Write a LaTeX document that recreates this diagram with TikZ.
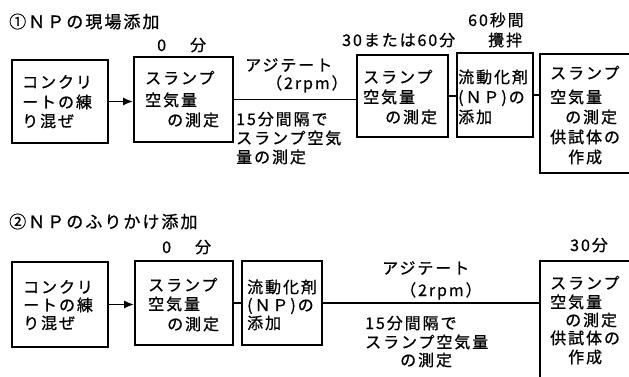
\documentclass[tikz,border=0pt]{standalone}
\usepackage{fontspec}
\newfontfamily\cjk[LetterSpace=12,FakeBold=0.8]{Noto Sans CJK JP}
\usetikzlibrary{arrows.meta}
\newcommand\tline[4]{\node[txt] (#1) at (#2,#3) {#4};}
\begin{document}
\begin{tikzpicture}[x=1pt,y=-1pt,
 box/.style={draw, line width=1.7pt, inner sep=0pt},
 txt/.style={anchor=west, inner sep=0pt, text height=14pt, text depth=2pt, font=\cjk\fontsize{16}{20}\selectfont},
 ttl/.style={txt, font=\cjk\fontsize{17}{20}\selectfont},
 conn/.style={line width=1.7pt},
 arr/.style={conn, -{Latex[length=10pt,width=8pt]}}]
\clip (0,0) rectangle (629,377);
\fill[white] (0,0) rectangle (629,377);

% ---------- row 1 ----------
\node[ttl] (t1) at (9,22) {①ＮＰの現場添加};
\node[box, minimum width=96pt, minimum height=83pt] (r1b1) at (60,101.5) {};
\node[box, minimum width=99pt, minimum height=85pt] (r1b2) at (183.5,99.5) {};
\node[box, minimum width=91pt, minimum height=82pt] (r1b3) at (402.5,96) {};
\node[box, minimum width=76pt, minimum height=84pt] (r1b4) at (495,95) {};
\node[box, minimum width=110pt, minimum height=119pt] (r1b5) at (595,113.5) {};

\draw[arr] (r1b1.east) -- (r1b1.east -| r1b2.west);
\draw[conn] (r1b2.east) -- (r1b2.east -| r1b3.west);
\draw[conn] (r1b3.east) -- (r1b3.east -| r1b4.west);
\draw[conn] (r1b4.east) -- (r1b4.east -| r1b5.west);

\tline{a1}{22}{82}{コンクリ}
\tline{a2}{22}{102}{ートの練}
\tline{a3}{22}{121}{り混ぜ}

\tline{b0}{157}{45}{0\hspace{24pt}分}
\tline{b1}{145}{78}{スランプ}
\tline{b2}{145}{100}{空気量}
\tline{b3}{167}{120}{の測定}

\tline{c1}{245}{65}{アジテート}
\tline{c2}{266}{83}{（2rpm）}
\tline{c3}{236}{119}{15分間隔で}
\tline{c4}{236}{138}{スランプ空気}
\tline{c5}{236}{157}{量の測定}

\tline{d0}{342}{40}{30または60分}
\tline{d1}{363}{77}{スランプ}
\tline{d2}{363}{97}{空気量}
\tline{d3}{385}{117}{の測定}

\tline{e0}{468}{20}{60秒間}
\tline{e00}{488}{40}{攪拌}
\tline{e1}{458}{77}{流動化剤}
\tline{e2}{458}{97}{(ＮＰ)の}
\tline{e3}{458}{117}{添加}

\tline{f1}{550}{73}{スランプ}
\tline{f2}{550}{97}{空気量}
\tline{f3}{565}{117}{の測定}
\tline{f4}{550}{137}{供試体の}
\tline{f5}{568}{157}{作成}

% ---------- row 2 ----------
\node[ttl] (t2) at (9,222) {②ＮＰのふりかけ添加};
\node[box, minimum width=96pt, minimum height=85pt] (r2b1) at (60,304.5) {};
\node[box, minimum width=98pt, minimum height=84pt] (r2b2) at (184,303) {};
\node[box, minimum width=80pt, minimum height=84pt] (r2b3) at (282,303) {};
\node[box, minimum width=110pt, minimum height=139pt] (r2b5) at (595,330.5) {};

\draw[arr] (r2b1.east) -- (r2b1.east -| r2b2.west);
\draw[conn] (r2b2.east) -- (r2b3.west);
\draw[conn] (r2b3.east) -- (r2b3.east -| r2b5.west);

\tline{g1}{23}{287}{コンクリ}
\tline{g2}{23}{305}{ートの練}
\tline{g3}{23}{323}{り混ぜ}

\tline{h0}{162}{247}{0\hspace{24pt}分}
\tline{h1}{148}{285}{スランプ}
\tline{h2}{148}{304}{空気量}
\tline{h3}{167}{324}{の測定}

\tline{i1}{247}{287}{流動化剤}
\tline{i2}{247}{305}{(ＮＰ)の}
\tline{i3}{247}{323}{添加}

\tline{j1}{382}{268}{アジテート}
\tline{j2}{400}{290}{（2rpm）}
\tline{j3}{365}{323}{15分間隔で}
\tline{j4}{365}{342}{スランプ空気量}
\tline{j5}{400}{360}{の測定}

\tline{k0}{570}{245}{30分}
\tline{k1}{550}{283}{スランプ}
\tline{k2}{550}{302}{空気量}
\tline{k3}{565}{320}{の測定}
\tline{k4}{550}{338}{供試体の}
\tline{k5}{568}{357}{作成}
\end{tikzpicture}
\end{document}
